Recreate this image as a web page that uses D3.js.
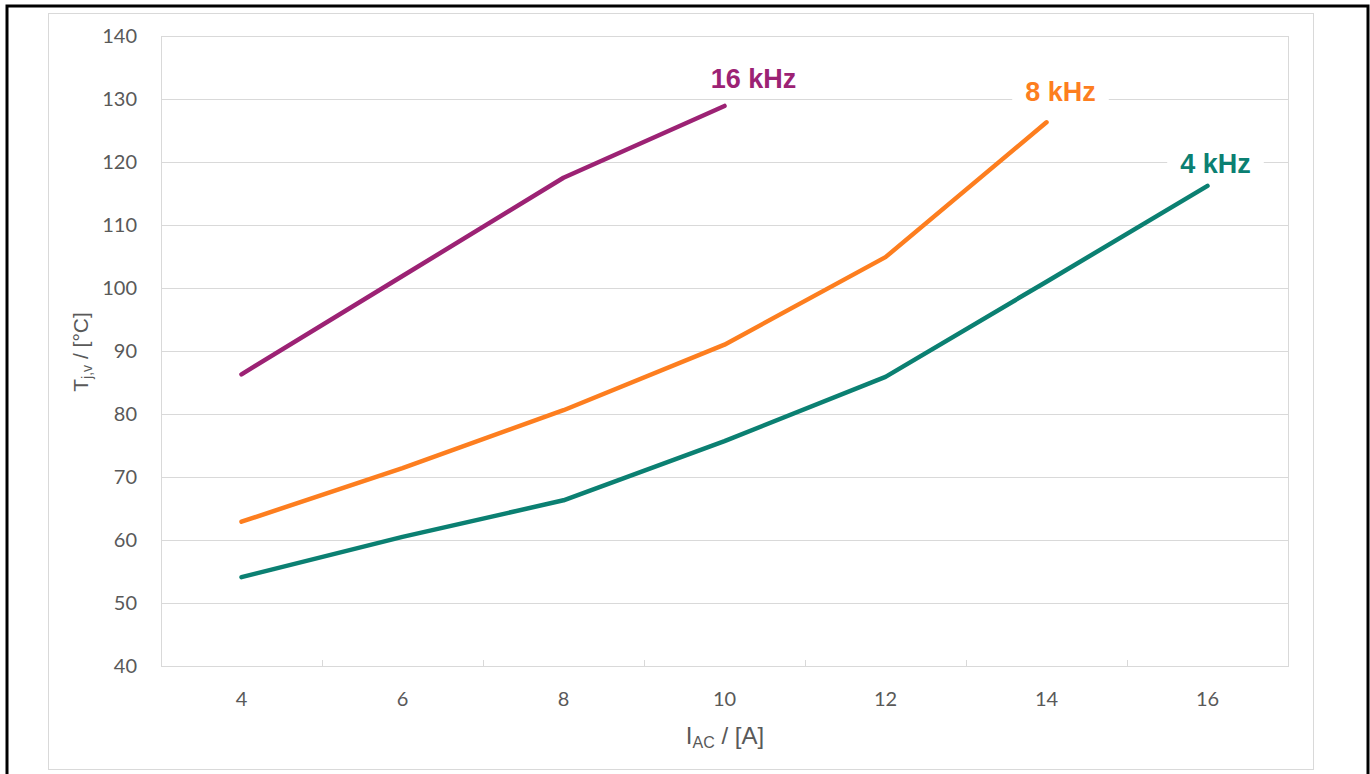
<!DOCTYPE html>
<html>
<head>
<meta charset="utf-8">
<script src="https://cdn.jsdelivr.net/npm/d3@7"></script>
<style>
  html, body { margin: 0; padding: 0; background: #fff; }
  svg { display: block; }
  .tick-label { font-family: Lato, "Open Sans", sans-serif; }
  .title, .series-label { font-family: "Liberation Sans", Arial, sans-serif; }
</style>
</head>
<body>
<div id="chart"></div>
<script>
const categories = [4, 6, 8, 10, 12, 14, 16];
const yTicks = [40, 50, 60, 70, 80, 90, 100, 110, 120, 130, 140];
const seriesNames = ["4 kHz", "8 kHz", "16 kHz"];
const values4k = [54.1, 60.5, 66.3, 75.7, 85.9, 101.0, 116.2];
const values8k = [62.9, 71.4, 80.6, 91.0, 104.9, 126.3];
const values16k = [86.3, 101.9, 117.5, 128.9];
const seriesColors = ["#0b8072", "#fd7e1f", "#9c2274"];

document.addEventListener("DOMContentLoaded", () => {
    const width = 1370, height = 774;
    const plotLeft = 161, plotRight = 1288, plotTop = 36, plotBottom = 666;

    const svg = d3.select("#chart").append("svg")
        .attr("width", width)
        .attr("height", height);

    // frames
    svg.append("rect").attr("x", 7).attr("y", 6).attr("width", 1361).attr("height", 780)
        .attr("fill", "none").attr("stroke", "#000").attr("stroke-width", 3);
    svg.append("rect").attr("x", 48.5).attr("y", 13.5).attr("width", 1265).attr("height", 756)
        .attr("fill", "none").attr("stroke", "#d9d9d9").attr("stroke-width", 1);

    const x = d3.scaleBand().domain(categories).range([plotLeft, plotRight]);
    const y = d3.scaleLinear().domain([40, 140]).range([plotBottom, plotTop]);

    // gridlines
    svg.append("g").selectAll("line").data(yTicks.slice(1)).join("line")
        .attr("x1", plotLeft).attr("x2", plotRight)
        .attr("y1", d => Math.round(y(d)) + 0.5).attr("y2", d => Math.round(y(d)) + 0.5)
        .attr("stroke", "#d9d9d9").attr("stroke-width", 1);

    // left axis line
    svg.append("line").attr("x1", plotLeft + 0.5).attr("x2", plotLeft + 0.5)
        .attr("y1", plotTop).attr("y2", plotBottom)
        .attr("stroke", "#d9d9d9");

    // right plot border
    svg.append("line").attr("x1", plotRight + 0.5).attr("x2", plotRight + 0.5)
        .attr("y1", plotTop).attr("y2", plotBottom)
        .attr("stroke", "#d9d9d9");

    // y tick labels
    svg.append("g").selectAll("text").data(yTicks).join("text")
        .attr("class", "tick-label")
        .attr("x", 137).attr("y", d => y(d) + 7)
        .attr("text-anchor", "end")
        .attr("font-size", 20).attr("fill", "#595959")
        .text(d => d);

    // x axis line and tick marks between categories
    svg.append("line").attr("x1", plotLeft).attr("x2", plotRight + 1)
        .attr("y1", plotBottom + 0.5).attr("y2", plotBottom + 0.5)
        .attr("stroke", "#d9d9d9");
    const boundaries = categories.slice(1).map(c => x(c));
    svg.append("g").selectAll("line").data(boundaries).join("line")
        .attr("x1", d => Math.round(d) + 0.5).attr("x2", d => Math.round(d) + 0.5)
        .attr("y1", plotBottom - 6).attr("y2", plotBottom)
        .attr("stroke", "#d9d9d9");

    svg.append("g").selectAll("text").data(categories).join("text")
        .attr("class", "tick-label")
        .attr("x", d => x(d) + x.bandwidth() / 2).attr("y", 706)
        .attr("text-anchor", "middle")
        .attr("font-size", 20).attr("fill", "#595959")
        .text(d => d);

    // axis titles
    const xt = svg.append("text").attr("class", "title")
        .attr("x", 725).attr("y", 744)
        .attr("text-anchor", "middle")
        .attr("font-size", 24).attr("fill", "#595959");
    xt.append("tspan").text("I");
    xt.append("tspan").attr("font-size", 16).attr("dy", 4).text("AC");
    xt.append("tspan").attr("dy", -4).text(" / [A]");

    const yt = svg.append("text").attr("class", "title")
        .attr("transform", "translate(88,352) rotate(-90)")
        .attr("text-anchor", "middle")
        .attr("font-size", 21).attr("fill", "#595959");
    yt.append("tspan").text("T");
    yt.append("tspan").attr("font-size", 14).attr("dy", 4).text("j,v");
    yt.append("tspan").attr("dy", -4).text(" / [°C]");

    // series lines
    const allSeries = [values4k, values8k, values16k];
    const line = d3.line()
        .x((d, i) => x(categories[i]) + x.bandwidth() / 2)
        .y(d => y(d));

    allSeries.forEach((vals, i) => {
        svg.append("path").datum(vals)
            .attr("d", line)
            .attr("fill", "none")
            .attr("stroke", seriesColors[i])
            .attr("stroke-width", 4.5)
            .attr("stroke-linecap", "round")
            .attr("stroke-linejoin", "round");
    });

    // series labels near line ends
    const labelOffsets = [[8, -13], [14, -21], [29, -18]];
    allSeries.forEach((vals, i) => {
        const last = vals.length - 1;
        const cx = x(categories[last]) + x.bandwidth() / 2 + labelOffsets[i][0];
        const cy = y(vals[last]) + labelOffsets[i][1];
        const g = svg.append("g");
        const t = g.append("text").attr("class", "series-label")
            .attr("x", cx).attr("y", cy)
            .attr("text-anchor", "middle")
            .attr("font-weight", "bold")
            .attr("font-size", 27)
            .attr("fill", seriesColors[i])
            .text(seriesNames[i]);
        const bb = t.node().getBBox();
        g.insert("rect", "text")
            .attr("x", bb.x - 13).attr("y", bb.y)
            .attr("width", bb.width + 26).attr("height", bb.height)
            .attr("fill", "#fff");
    });
});
</script>
</body>
</html>
